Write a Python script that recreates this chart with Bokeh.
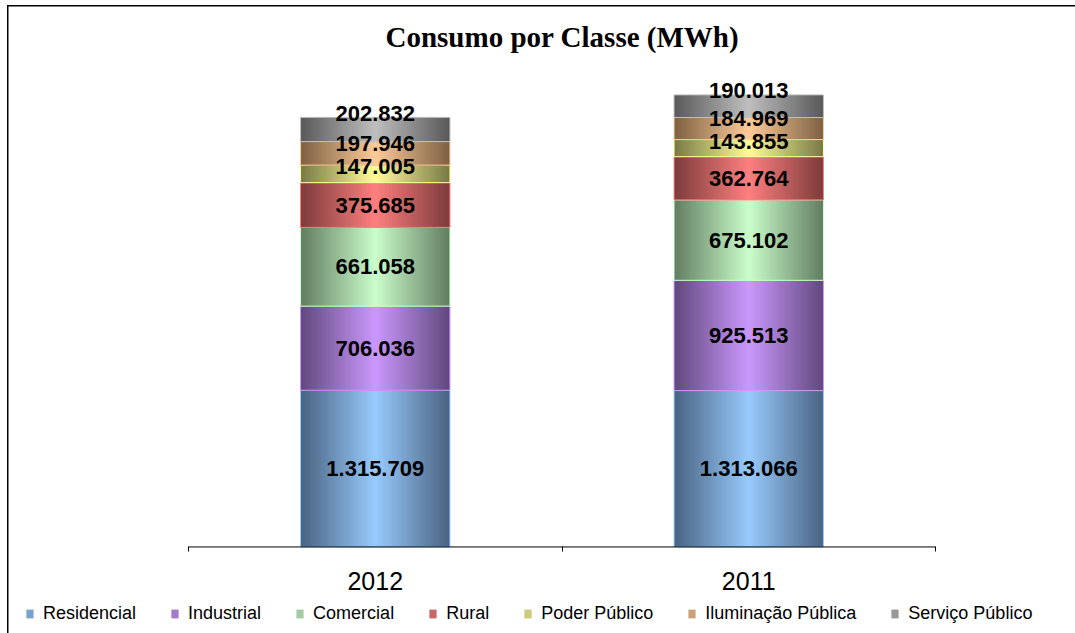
from bokeh.plotting import figure
from bokeh.models import Range1d, FixedTicker, Legend, LegendItem
from bokeh.embed import file_html
from bokeh.resources import INLINE
from bokeh.core.properties import value

# ---- data -----------------------------------------------------------------
categories = ["2012", "2011"]
series_names = ["Residencial", "Industrial", "Comercial", "Rural",
                "Poder Público", "Iluminação Pública", "Serviço Público"]
residencial = [1315709, 1313066]
industrial = [706036, 925513]
comercial = [661058, 675102]
rural = [375685, 362764]
poder_publico = [147005, 143855]
iluminacao_publica = [197946, 184969]
servico_publico = [202832, 190013]
series_values = [residencial, industrial, comercial, rural,
                 poder_publico, iluminacao_publica, servico_publico]

# ---- styles / layout ------------------------------------------------------
light = ["#99CCFF", "#CC99FF", "#CCFFCC", "#FF8080", "#FFFF99", "#FFCC99", "#C0C0C0"]
dark = ["#4A6482", "#62497E", "#637E63", "#7E3C3C", "#7A7A48", "#7E6244", "#5A5A5A"]
label_nudge_px = [0, 0, 0, 0, 7, 10, 16]   # manual label nudges (upwards)
BAR_W = 0.4
N_STEPS = 40
W, H = 1075, 633
TOP_PX = 67          # plot area top
BASE_PX = 546        # baseline
LEFT_PX, RIGHT_PX = 188, 935
Y_MAX = 4000000

cat_px = (RIGHT_PX - LEFT_PX) / len(categories)
x_start = -LEFT_PX / cat_px
x_end = len(categories) + (W - RIGHT_PX) / cat_px
units_per_px = Y_MAX / (BASE_PX - TOP_PX)
y_start = -(H - BASE_PX) * units_per_px


def hex2rgb(h):
    h = h.lstrip("#")
    return [int(h[i:i + 2], 16) for i in (0, 2, 4)]


def mix(c_dark, c_light, f):
    a, b = hex2rgb(c_dark), hex2rgb(c_light)
    return "#%02x%02x%02x" % tuple(int(round(a[i] + (b[i] - a[i]) * f)) for i in range(3))


def fmt(v):
    return f"{v:,}".replace(",", ".")


p = figure(width=W, height=H, x_range=Range1d(x_start, x_end),
           y_range=Range1d(y_start, Y_MAX), output_backend="svg", toolbar_location=None,
           min_border_left=0, min_border_right=0, min_border_top=TOP_PX,
           min_border_bottom=0, outline_line_color=None,
           border_fill_alpha=0, background_fill_alpha=0)
p.styles = {
    "background": "linear-gradient(#000,#000) 7px 5px / 1.5px calc(100% - 5px) no-repeat, "
                  "linear-gradient(#000,#000) 7px 5px / calc(100% - 7px) 1.5px no-repeat, #ffffff"
}

p.title.text = "Consumo por Classe (MWh)"
p.title.align = "left"
p.title.offset = 385
p.title.text_font = "Liberation Serif"
p.title.text_font_size = "29px"
p.title.text_font_style = "bold"
p.title.text_color = "#000000"
p.title.standoff = 36

centers = [j + 0.5 for j in range(len(categories))]
bottoms = [0] * len(categories)
label_x, label_y, label_t, label_off = [], [], [], []
legend_items = []

for i, (name, vals) in enumerate(zip(series_names, series_values)):
    tops = [b + v for b, v in zip(bottoms, vals)]
    # solid swatch bar (hidden under the gradient, used for the legend)
    sw = p.vbar(x=centers, width=BAR_W, bottom=bottoms, top=tops,
                fill_color=mix(dark[i], light[i], 0.6), line_color=None)
    # horizontal gradient: nested, progressively narrower & lighter bars
    xs, ws, b_s, t_s, cols = [], [], [], [], []
    for j in range(len(categories)):
        for k in range(N_STEPS):
            f = k / N_STEPS
            xs.append(centers[j])
            ws.append(BAR_W * (1 - f))
            b_s.append(bottoms[j])
            t_s.append(tops[j])
            cols.append(mix(dark[i], light[i], f))
    p.vbar(x=xs, width=ws, bottom=b_s, top=t_s, fill_color=cols, line_color=None)
    # outline
    p.vbar(x=centers, width=BAR_W, bottom=bottoms, top=tops,
           fill_color=None, line_color=light[i], line_width=1)
    for j in range(len(categories)):
        label_x.append(centers[j])
        label_y.append(bottoms[j] + vals[j] / 2)
        label_t.append(fmt(vals[j]))
        label_off.append(-label_nudge_px[i])
    legend_items.append(LegendItem(label=name, renderers=[sw]))
    bottoms = tops

p.text(x=label_x, y=label_y, text=label_t, y_offset=label_off,
       text_align="center", text_baseline="middle",
       text_font=value("Liberation Sans"), text_font_style="bold",
       text_font_size="22px", text_color="#000000")

# category axis line
p.segment(x0=[0], y0=[0], x1=[len(categories)], y1=[0], line_color="#000000", line_width=1)

p.grid.visible = False
p.yaxis.visible = False
xa = p.xaxis[0]
xa.fixed_location = 0
xa.ticker = FixedTicker(ticks=centers, minor_ticks=list(range(len(categories) + 1)))
xa.major_label_overrides = {c: cat for c, cat in zip(centers, categories)}
xa.major_tick_line_color = None
xa.major_tick_out = 0
xa.major_tick_in = 0
xa.minor_tick_out = 5
xa.minor_tick_in = 0
xa.minor_tick_line_color = "#000000"
xa.axis_line_color = None
xa.major_label_text_font = "Liberation Sans"
xa.major_label_text_font_size = "25px"
xa.major_label_text_color = "#000000"
xa.major_label_standoff = 20

legend = Legend(items=legend_items, orientation="horizontal", location=(25, 9),
                label_text_font="Liberation Sans", label_text_font_size="18px",
                label_text_color="#000000", glyph_width=9, glyph_height=11,
                label_standoff=9, spacing=34, padding=0, margin=0,
                border_line_color=None, background_fill_alpha=0)
p.add_layout(legend, "center")

open("out.html", "w").write(file_html(p, INLINE))
